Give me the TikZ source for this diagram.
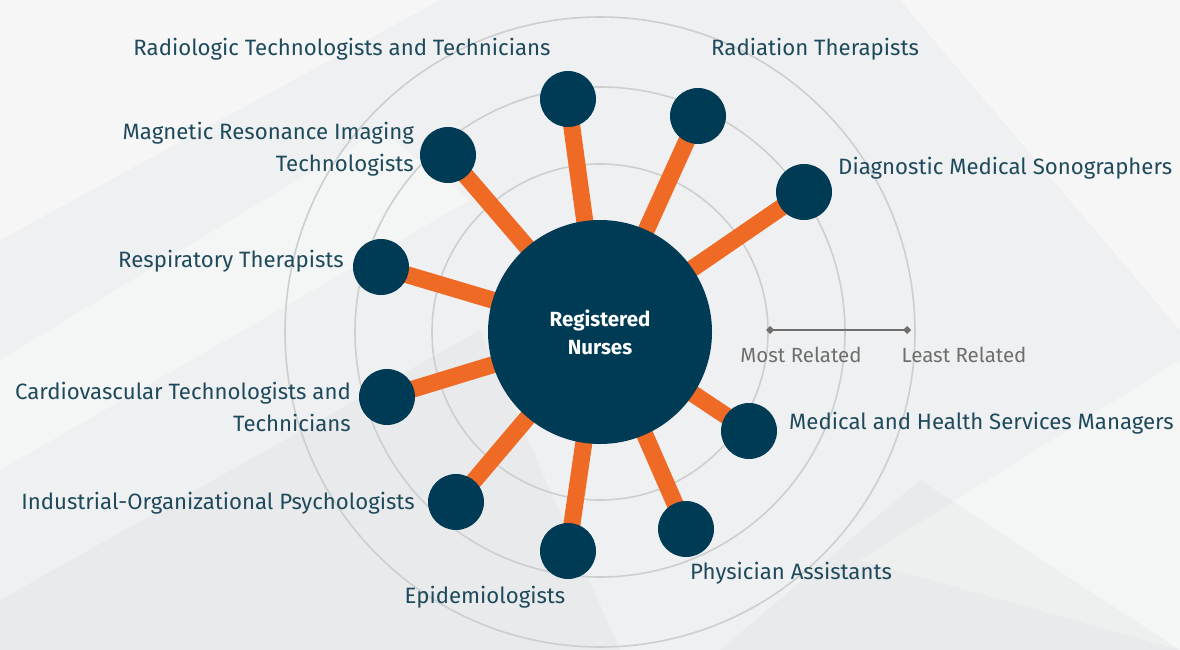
\documentclass[tikz,border=0pt]{standalone}
\usepackage{fontspec}
\setmainfont{Fira Sans}
\usetikzlibrary{arrows.meta}
\definecolor{navy}{HTML}{003B55}
\definecolor{orng}{HTML}{EF6A24}
\definecolor{ring}{HTML}{CDCECF}
\definecolor{lbl}{HTML}{1E4A5C}
\definecolor{scl}{HTML}{6E6E6E}
\definecolor{bgbase}{HTML}{EFF0F1}
\pgfdeclarelayer{bg}
\pgfdeclarelayer{mid}
\pgfsetlayers{bg,mid,main}
\tikzset{
  hub/.style={circle,fill=navy,minimum size=224pt,inner sep=0pt,text=white,align=center,font=\fontsize{20.5}{28}\selectfont\bfseries},
  sat/.style={circle,fill=navy,minimum size=56pt,inner sep=0pt},
  conn/.style={draw=orng,line width=17pt},
  ringline/.style={draw=ring,line width=1.6pt},
  lab/.style={text=lbl,inner sep=0pt,font=\fontsize{22.2}{32}\selectfont},
  scaletxt/.style={text=scl,inner sep=0pt,font=\fontsize{20.5}{22}\selectfont},
}
\begin{document}
\begin{tikzpicture}[x=1pt,y=-1pt]
\useasboundingbox (0,0) rectangle (1180,650);
\begin{pgfonlayer}{bg}
\fill[bgbase] (0,0) rectangle (1180,650);
\fill[white,opacity=0.45] (0,0) -- (440,0) -- (0,240) -- cycle;
\fill[white,opacity=0.35] (0,360) -- (380,130) -- (470,200) -- (0,470) -- cycle;
\fill[black,opacity=0.025] (0,600) -- (480,330) -- (620,650) -- (0,650) -- cycle;
\fill[white,opacity=0.45] (900,0) -- (1180,0) -- (1180,330) -- cycle;
\fill[white,opacity=0.35] (1180,360) -- (860,560) -- (1180,650) -- cycle;
\fill[black,opacity=0.025] (720,650) -- (920,480) -- (1180,650) -- cycle;
\draw[ringline] (600,332) circle[radius=168];
\draw[ringline] (600,332) circle[radius=245];
\draw[ringline] (600,332) circle[radius=315];
\end{pgfonlayer}

\node[hub] (c) at (600,332) {Registered\\Nurses};
\node[sat] (s1) at (568,99) {};
\node[sat] (s2) at (698,116) {};
\node[sat] (s3) at (804,192) {};
\node[sat] (s4) at (448,155) {};
\node[sat] (s5) at (381,267) {};
\node[sat] (s6) at (387,397) {};
\node[sat] (s7) at (456,502) {};
\node[sat] (s8) at (568,551) {};
\node[sat] (s9) at (686,529) {};
\node[sat] (s10) at (749,431) {};

\begin{pgfonlayer}{mid}
\foreach \s in {s1,s2,s3,s4,s5,s6,s7,s8,s9,s10}
  \draw[conn] (c.center) -- (\s.center);
\end{pgfonlayer}

\node[lab,anchor=center] (l1) at (342,49) {Radiologic Technologists and Technicians};
\node[lab,anchor=west] (l2) at (711,49) {Radiation Therapists};
\node[lab,anchor=west] (l3) at (838,168) {Diagnostic Medical Sonographers};
\node[lab,anchor=east,align=right] (l4) at (414,149) {Magnetic Resonance Imaging\\Technologists};
\node[lab,anchor=east] (l5) at (344,261) {Respiratory Therapists};
\node[lab,anchor=east,align=right] (l6) at (351,407) {Cardiovascular Technologists and\\Technicians};
\node[lab,anchor=east] (l7) at (415,503) {Industrial-Organizational Psychologists};
\node[lab,anchor=center] (l8) at (485,597) {Epidemiologists};
\node[lab,anchor=west] (l9) at (690,573) {Physician Assistants};
\node[lab,anchor=west] (l10) at (789,423) {Medical and Health Services Managers};

\coordinate (m1) at (766,330);
\coordinate (m2) at (911,330);
\draw[draw=scl,line width=1.8pt,{Diamond[length=8pt,width=8pt]}-{Diamond[length=8pt,width=8pt]}] (m1) -- (m2);
\node[scaletxt] (t1) at (801,355) {Most Related};
\node[scaletxt] (t2) at (964,355) {Least Related};
\end{tikzpicture}
\end{document}
